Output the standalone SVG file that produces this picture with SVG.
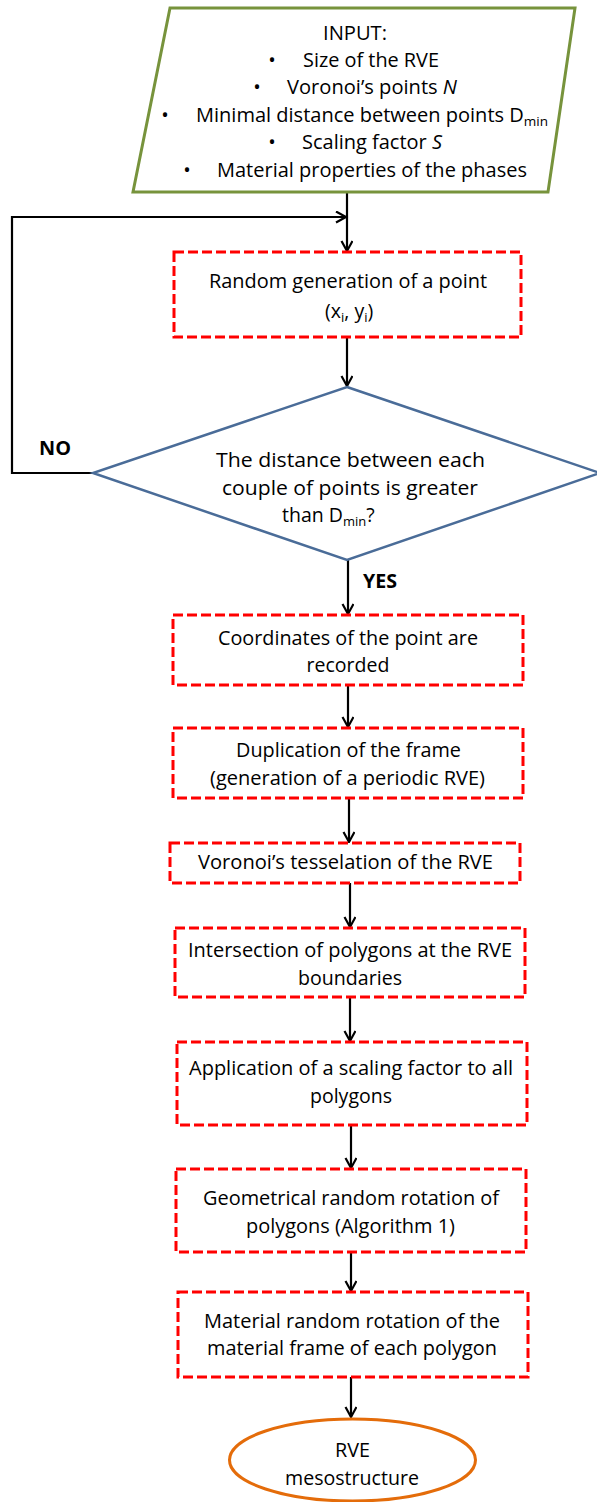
<svg xmlns="http://www.w3.org/2000/svg" width="597" height="1502" viewBox="0 0 597 1502">
<style>
text{font-family:"Open Sans","Liberation Sans",sans-serif;fill:#000;}
.t{font-size:19.5px;}
.in{font-size:20px;}
.b{font-weight:bold;font-size:19.5px;}
.box{fill:#fff;stroke:#FF0000;stroke-width:3;stroke-dasharray:10 4;}
.con{fill:none;stroke:#000;stroke-width:2.2;}
</style>
<defs>
<marker id="arr" markerUnits="userSpaceOnUse" markerWidth="14" markerHeight="14" refX="11" refY="6" orient="auto">
<path d="M1,0.5 L11,6 L1,11.5" fill="none" stroke="#000" stroke-width="2.2"/>
</marker>
</defs>
<rect width="597" height="1502" fill="#fff"/>

<g id="connectors">
<path class="con" d="M347,192 V251" marker-end="url(#arr)"/>
<path class="con" d="M93,473 H12 V217 H346" marker-end="url(#arr)"/>
<path class="con" d="M347,337 V386" marker-end="url(#arr)"/>
<path class="con" d="M348,560 V614" marker-end="url(#arr)"/>
<path class="con" d="M348,685 V727" marker-end="url(#arr)"/>
<path class="con" d="M349,798 V842" marker-end="url(#arr)"/>
<path class="con" d="M350,883 V927" marker-end="url(#arr)"/>
<path class="con" d="M350,997 V1041" marker-end="url(#arr)"/>
<path class="con" d="M351,1125 V1168" marker-end="url(#arr)"/>
<path class="con" d="M351,1252 V1291" marker-end="url(#arr)"/>
<path class="con" d="M351,1377 V1417" marker-end="url(#arr)"/>
<text class="b" x="39" y="455" textLength="32" lengthAdjust="spacingAndGlyphs">NO</text>
<text class="b" x="363" y="588" textLength="34" lengthAdjust="spacingAndGlyphs">YES</text>
</g>

<g id="input">
<polygon points="170,8 575,8 548,192 133,192" fill="#fff" stroke="#77933C" stroke-width="3"/>
<text class="in" x="323" y="40" textLength="64" lengthAdjust="spacingAndGlyphs">INPUT:</text>
<text class="in" x="272" y="67" text-anchor="middle">•</text>
<text class="in" x="303" y="67" textLength="136" lengthAdjust="spacingAndGlyphs">Size of the RVE</text>
<text class="in" x="257" y="94" text-anchor="middle">•</text>
<text class="in" x="287" y="94" textLength="170" lengthAdjust="spacingAndGlyphs">Voronoi’s points <tspan font-style="italic">N</tspan></text>
<text class="in" x="165" y="122" text-anchor="middle">•</text>
<text class="in" x="196" y="122" textLength="352" lengthAdjust="spacingAndGlyphs">Minimal distance between points D<tspan font-size="13.5" dy="4">min</tspan></text>
<text class="in" x="272" y="149" text-anchor="middle">•</text>
<text class="in" x="302" y="149" textLength="140" lengthAdjust="spacingAndGlyphs">Scaling factor <tspan font-style="italic">S</tspan></text>
<text class="in" x="187" y="177" text-anchor="middle">•</text>
<text class="in" x="217" y="177" textLength="310" lengthAdjust="spacingAndGlyphs">Material properties of the phases</text>
</g>

<g id="random">
<rect class="box" x="174" y="252" width="347" height="85"/>
<text class="t" x="209" y="288" textLength="278" lengthAdjust="spacingAndGlyphs">Random generation of a point</text>
<text class="t" x="325" y="318">(x<tspan font-size="13" dy="4">i</tspan><tspan dy="-4">, y</tspan><tspan font-size="13" dy="4">i</tspan><tspan dy="-4">)</tspan></text>
</g>

<g id="check">
<polygon points="347,387 600,473 347,560 93,473" fill="#fff" stroke="#4A6C98" stroke-width="2.5"/>
<text class="t" x="216" y="467" textLength="269" lengthAdjust="spacingAndGlyphs">The distance between each</text>
<text class="t" x="222" y="495" textLength="256" lengthAdjust="spacingAndGlyphs">couple of points is greater</text>
<text class="t" x="282" y="522">than D<tspan font-size="13" dy="4">min</tspan><tspan dy="-4">?</tspan></text>
</g>

<g id="coords">
<rect class="box" x="173" y="615" width="350" height="70"/>
<text class="t" x="218" y="645" textLength="260" lengthAdjust="spacingAndGlyphs">Coordinates of the point are</text>
<text class="t" x="348" y="672" text-anchor="middle">recorded</text>
</g>

<g id="duplication">
<rect class="box" x="173" y="728" width="350" height="70"/>
<text class="t" x="236" y="757" textLength="225" lengthAdjust="spacingAndGlyphs">Duplication of the frame</text>
<text class="t" x="210" y="785" textLength="275" lengthAdjust="spacingAndGlyphs">(generation of a periodic RVE)</text>
</g>

<g id="voronoi">
<rect class="box" x="170" y="843" width="350" height="40"/>
<text class="t" x="198" y="869" textLength="295" lengthAdjust="spacingAndGlyphs">Voronoi’s tesselation of the RVE</text>
</g>

<g id="intersection">
<rect class="box" x="175" y="928" width="350" height="69"/>
<text class="t" x="188" y="957" textLength="324" lengthAdjust="spacingAndGlyphs">Intersection of polygons at the RVE</text>
<text class="t" x="298" y="985" textLength="104" lengthAdjust="spacingAndGlyphs">boundaries</text>
</g>

<g id="scaling">
<rect class="box" x="177" y="1042" width="350" height="83"/>
<text class="t" x="189" y="1075" textLength="324" lengthAdjust="spacingAndGlyphs">Application of a scaling factor to all</text>
<text class="t" x="310" y="1103" textLength="82" lengthAdjust="spacingAndGlyphs">polygons</text>
</g>

<g id="geometrical">
<rect class="box" x="176" y="1169" width="350" height="83"/>
<text class="t" x="203" y="1205" textLength="296" lengthAdjust="spacingAndGlyphs">Geometrical random rotation of</text>
<text class="t" x="246" y="1233" textLength="209" lengthAdjust="spacingAndGlyphs">polygons (Algorithm 1)</text>
</g>

<g id="material">
<rect class="box" x="178" y="1292" width="350" height="85"/>
<text class="t" x="204" y="1328" textLength="296" lengthAdjust="spacingAndGlyphs">Material random rotation of the</text>
<text class="t" x="207" y="1355" textLength="290" lengthAdjust="spacingAndGlyphs">material frame of each polygon</text>
</g>

<g id="output">
<ellipse cx="352.5" cy="1460" rx="123" ry="41" fill="#fff" stroke="#E46C0A" stroke-width="3"/>
<text class="t" x="335" y="1457" textLength="35" lengthAdjust="spacingAndGlyphs">RVE</text>
<text class="t" x="285" y="1485" textLength="134" lengthAdjust="spacingAndGlyphs">mesostructure</text>
</g>
</svg>
